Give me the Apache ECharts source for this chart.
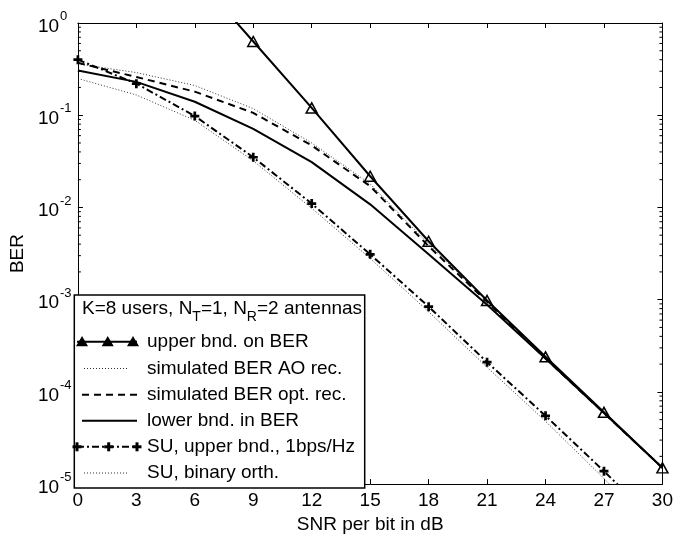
<!DOCTYPE html>
<html><head><meta charset="utf-8">
<script src="https://cdn.jsdelivr.net/npm/echarts@6/dist/echarts.min.js"></script>
<style>html,body{margin:0;padding:0;background:#fff}#c{width:676px;height:539px}</style>
</head><body><div id="c"></div>
<script>
// ---- data ----
const snr = [0, 3, 6, 9, 12, 15, 18, 21, 24, 27, 30];
const upperBnd = [null, null, 3.3, 0.63, 0.12, 0.0218, 0.0043, 9.8e-4, 2.4e-4, 6.0e-5, 1.5e-5];
const simAO = [0.36, 0.29, 0.21, 0.118, 0.050, 0.018, 0.0040, 9.6e-4, 2.3e-4, 6.0e-5, 1.5e-5];
const simOpt = [0.37, 0.26, 0.18, 0.106, 0.047, 0.017, 0.0038, 9.5e-4, 2.3e-4, 5.9e-5, 1.5e-5];
const lowerBnd = [0.305, 0.23, 0.14, 0.071, 0.031, 0.0108, 0.0031, 8.8e-4, 2.3e-4, 5.9e-5, 1.5e-5];
const suUpper = [0.40, 0.22, 0.098, 0.035, 0.011, 0.0031, 8.4e-4, 2.1e-4, 5.5e-5, 1.38e-5, 3.3e-6];
const suBinary = [0.25, 0.166, 0.088, 0.032, 0.0098, 0.0028, 7.4e-4, 1.85e-4, 4.8e-5, 1.15e-5, 2.6e-6];
const legendTitle = 'K=8 users, N{sub|T}=1, N{sub|R}=2 antennas';
const legendNames = ['upper bnd. on BER', 'simulated BER AO rec.', 'simulated BER opt. rec.', 'lower bnd. in BER', 'SU, upper bnd., 1bps/Hz', 'SU, binary orth.'];
const xName = 'SNR per bit in dB';
const yName = 'BER';
const minorTickVals = [];
for (let e = -5; e < 0; e++) for (let m = 2; m <= 9; m++) minorTickVals.push(m * Math.pow(10, e));

// ---- chart ----
const FONT = 'Liberation Sans, Arial, Helvetica, sans-serif';
const G = { left: 67.7, right: 9.3, top: 23, bottom: 45 };
const pairs = arr => snr.map((x, i) => [x, arr[i]]).filter(p => p[1] != null);
const plusPath = 'path://M3.5,0H6.5V3.5H10V6.5H6.5V10H3.5V6.5H0V3.5H3.5Z';
const DOT = { color: '#333', width: 1, type: [1, 2] };

const chart = echarts.init(document.getElementById('c'), null, { renderer: 'canvas' });

const axisLineStyle = { color: '#000', width: 1 };
const option = {
  animation: false,
  backgroundColor: '#fff',
  textStyle: { fontFamily: FONT },
  grid: { left: G.left, right: G.right, top: G.top, bottom: G.bottom, containLabel: false },
  xAxis: [{
    type: 'value', min: 0, max: 30, interval: 3, position: 'bottom',
    name: xName, nameLocation: 'middle', nameGap: 29,
    nameTextStyle: { fontSize: 19, color: '#000', fontFamily: FONT },
    axisLine: { show: true, onZero: false, lineStyle: axisLineStyle },
    axisTick: { show: true, inside: true, length: 5, lineStyle: axisLineStyle },
    axisLabel: { fontSize: 19, color: '#000', margin: 7, fontFamily: FONT },
    splitLine: { show: false }
  }, {
    type: 'value', min: 0, max: 30, interval: 3, position: 'top',
    axisLine: { show: true, onZero: false, lineStyle: axisLineStyle },
    axisTick: { show: true, inside: true, length: 5, lineStyle: axisLineStyle },
    axisLabel: { show: false }, splitLine: { show: false }
  }],
  yAxis: [{
    type: 'log', logBase: 10, min: 1e-5, max: 1, position: 'left',
    name: yName, nameLocation: 'middle', nameGap: 50, nameRotate: 90,
    nameTextStyle: { fontSize: 19, color: '#000', fontFamily: FONT },
    axisLine: { show: true, onZero: false, lineStyle: axisLineStyle },
    axisTick: { show: true, inside: true, length: 5, lineStyle: axisLineStyle },
    axisLabel: {
      align: 'left', margin: 40, color: '#000',
      formatter: v => { const e = Math.round(Math.log10(v)); return '{b|10}{s|' + (e < 0 ? '-' + (-e) : e) + '}'; },
      rich: {
        b: { fontSize: 19, lineHeight: 26, verticalAlign: 'bottom', fontFamily: FONT, color: '#000' },
        s: { fontSize: 13, lineHeight: 13, verticalAlign: 'top', fontFamily: FONT, color: '#000', padding: [0, 0, 0, 1] }
      }
    },
    splitLine: { show: false }, minorTick: { show: false }
  }, {
    type: 'log', logBase: 10, min: 1e-5, max: 1, position: 'right',
    axisLine: { show: true, onZero: false, lineStyle: axisLineStyle },
    axisTick: { show: true, inside: true, length: 5, lineStyle: axisLineStyle },
    axisLabel: { show: false }, splitLine: { show: false }
  }],
  series: [
    {
      name: 'minor', type: 'custom', xAxisIndex: 0, yAxisIndex: 0, silent: true, clip: false,
      data: minorTickVals.map(v => [0, v]),
      renderItem: (params, api) => {
        const v = api.value(1);
        const pl = api.coord([0, v]);
        const pr = api.coord([30, v]);
        return {
          type: 'group', children: [
            { type: 'line', shape: { x1: pl[0], y1: pl[1], x2: pl[0] + 3, y2: pl[1] }, style: { stroke: '#000', lineWidth: 1 } },
            { type: 'line', shape: { x1: pr[0], y1: pr[1], x2: pr[0] - 3, y2: pr[1] }, style: { stroke: '#000', lineWidth: 1 } }
          ]
        };
      }
    },
    {
      name: legendNames[1], type: 'line', data: pairs(simAO), symbol: 'none', clip: true,
      lineStyle: DOT, z: 3
    },
    {
      name: legendNames[5], type: 'line', data: pairs(suBinary), symbol: 'none', clip: true,
      lineStyle: DOT, z: 3
    },
    {
      name: legendNames[2], type: 'line', data: pairs(simOpt), symbol: 'none', clip: true,
      lineStyle: { color: '#000', width: 2, type: [7, 5] }, z: 4
    },
    {
      name: legendNames[3], type: 'line', data: pairs(lowerBnd), symbol: 'none', clip: true,
      lineStyle: { color: '#000', width: 2 }, z: 4
    },
    {
      name: legendNames[4], type: 'line', data: pairs(suUpper), clip: true,
      symbol: plusPath, symbolSize: 9, showAllSymbol: true,
      itemStyle: { color: '#000', borderWidth: 0 },
      lineStyle: { color: '#000', width: 2, type: [7, 3, 2, 3] }, z: 5
    },
    {
      name: legendNames[0], type: 'line', data: pairs(upperBnd), clip: true,
      symbol: 'triangle', symbolSize: [11, 10], showAllSymbol: true,
      itemStyle: { color: 'rgba(0,0,0,0)', borderColor: '#000', borderWidth: 1.5 },
      lineStyle: { color: '#000', width: 2 }, z: 6
    }
  ],
  graphic: []
};

// legend box drawn as decoration
const LX = 74.3, LY = 295, LW = 290.4, LH = 193;
const rowY = [341.7, 368.5, 394.8, 420.7, 446.8, 473];
const g = [];
g.push({ type: 'rect', shape: { x: LX, y: LY, width: LW, height: LH }, style: { fill: '#fff', stroke: '#000', lineWidth: 1.5 }, z: 100 });
g.push({
  type: 'text', x: 82, y: 309, z: 101,
  style: {
    text: legendTitle, verticalAlign: 'middle', align: 'left', fill: '#000',
    rich: {
      sub: { fontSize: 14, lineHeight: 30, verticalAlign: 'bottom', fontFamily: FONT, fill: '#000' }
    },
    font: '19px ' + FONT, lineHeight: 20
  }
});
legendNames.forEach((n, i) => {
  g.push({ type: 'text', x: 147, y: rowY[i], z: 101, style: { text: n, font: '19px ' + FONT, fill: '#000', verticalAlign: 'middle', align: 'left' } });
});
// sample: upper bnd
g.push({ type: 'line', shape: { x1: 77, y1: rowY[0], x2: 137, y2: rowY[0] }, style: { stroke: '#000', lineWidth: 2 }, z: 101 });
[82, 107.7, 133].forEach(cx => {
  g.push({ type: 'polygon', shape: { points: [[cx, rowY[0] - 4.5], [cx - 5, rowY[0] + 4], [cx + 5, rowY[0] + 4]] }, style: { fill: '#000', stroke: '#000', lineWidth: 1.2 }, z: 102 });
});
// dotted samples
[1, 5].forEach(i => g.push({ type: 'line', shape: { x1: 84, y1: rowY[i], x2: 128, y2: rowY[i] }, style: { stroke: '#333', lineWidth: 1, lineDash: [1, 2] }, z: 101 }));
// dashed
g.push({ type: 'line', shape: { x1: 82, y1: rowY[2], x2: 137, y2: rowY[2] }, style: { stroke: '#000', lineWidth: 2, lineDash: [7, 5] }, z: 101 });
// solid
g.push({ type: 'line', shape: { x1: 82, y1: rowY[3], x2: 137, y2: rowY[3] }, style: { stroke: '#000', lineWidth: 2 }, z: 101 });
// dash-dot with plus
g.push({ type: 'line', shape: { x1: 77, y1: rowY[4], x2: 137, y2: rowY[4] }, style: { stroke: '#000', lineWidth: 2, lineDash: [7, 3, 2, 3] }, z: 101 });
[77, 108.7, 137].forEach(cx => {
  g.push({ type: 'rect', shape: { x: cx - 4.5, y: rowY[4] - 1.5, width: 9, height: 3 }, style: { fill: '#000' }, z: 102 });
  g.push({ type: 'rect', shape: { x: cx - 1.5, y: rowY[4] - 4.5, width: 3, height: 9 }, style: { fill: '#000' }, z: 102 });
});
option.graphic = g;

chart.setOption(option);
</script>
</body></html>
